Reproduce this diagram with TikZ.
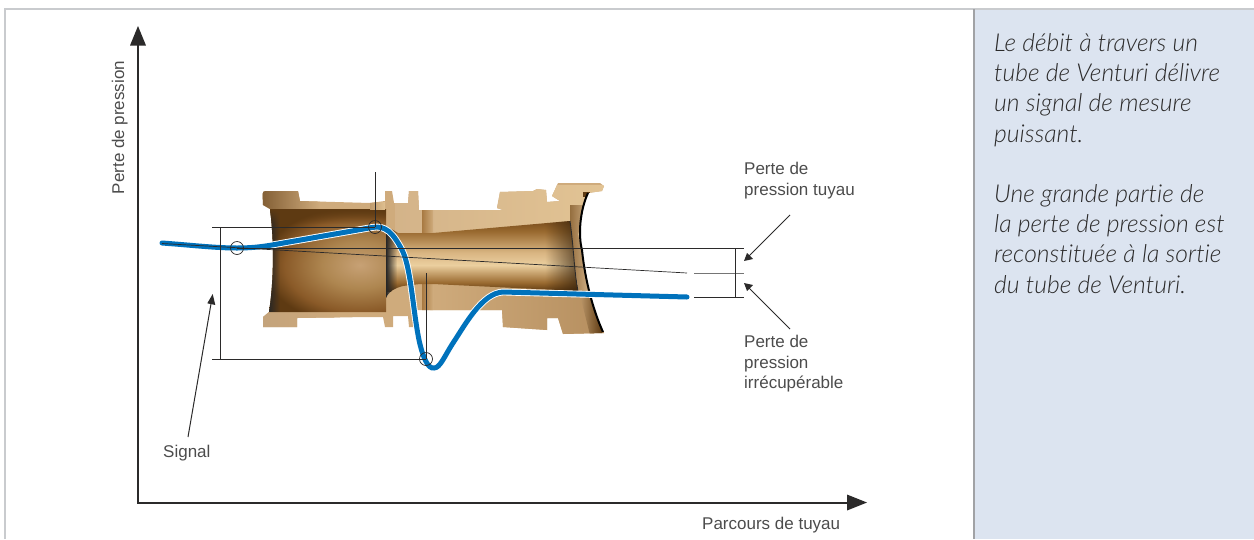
\documentclass[tikz,border=0pt]{standalone}
\usepackage{fontspec}
\usetikzlibrary{fadings,calc}
\setmainfont{Liberation Sans}
\newfontfamily\panelfont[Ligatures=NoCommon]{Lato Light Italic}
\definecolor{ink}{HTML}{2B2A2A}
\definecolor{labelc}{HTML}{4C4C4C}
\definecolor{panelc}{HTML}{DCE4F0}
\definecolor{frameG}{HTML}{C9CBCE}
\definecolor{venturi}{HTML}{0072BC}
\definecolor{tan}{HTML}{CFAB7C}
\definecolor{dk}{HTML}{5E3A12}
\definecolor{md}{HTML}{A87A42}
\definecolor{lt}{HTML}{EBCF9F}
\definecolor{bA}{HTML}{7A4D1C}
\definecolor{bB}{HTML}{9A6A30}
\definecolor{bC}{HTML}{D9B582}
\definecolor{cA}{HTML}{C7A175}
\definecolor{cB}{HTML}{AE8650}
\definecolor{cC}{HTML}{8A5A28}
\pgfdeclareverticalshading{bore}{100bp}{color(0bp)=(dk);color(25bp)=(dk);color(31bp)=(bB);color(43.5bp)=(lt);color(52.5bp)=(bC);color(67.5bp)=(bB);color(75bp)=(bA);color(100bp)=(bA)}
\pgfdeclareradialshading{cav}{\pgfpoint{0bp}{0bp}}{color(0bp)=(cA);color(9bp)=(cB);color(18bp)=(cC);color(23bp)=(dk);color(50bp)=(dk)}
\tikzset{
  thinline/.style={draw=ink,line width=1pt},
  hair/.style={draw=ink,line width=0.7pt},
  pale/.style={draw=ink!65,line width=1pt},
  ring/.style={circle,draw=ink,line width=0.7pt,minimum size=13pt,inner sep=0pt},
  lab/.style={text=labelc,font=\fontsize{17}{20.6}\selectfont,inner sep=0pt,align=left},
  panelt/.style={text=ink,font=\panelfont\fontsize{24.7}{30.4}\selectfont,inner sep=0pt,align=left,anchor=north west},
  tri/.style={fill=ink,draw=none},
}
\begin{document}
\begin{tikzpicture}[x=1pt,y=-1pt]
\useasboundingbox (0,0) rectangle (1254,539);
% panel and frame
\fill[panelc] (974,9) rectangle (1254,539);
\draw[frameG,line width=1.4pt] (5,539) -- (5,9) -- (1254,9);
\draw[frameG!80!black,line width=1.2pt] (974,9) -- (974,539);
% body
\begin{scope}
\clip (262.5,194) .. controls (262.5,191.5) and (264,191) .. (266,191) -- (298,191) -- (300,201) -- (370,203) -- (385,201) -- (385,191) -- (392,191) -- (394,203) -- (408,203) -- (409,191) -- (418,191) -- (419,210) -- (503,210) -- (497,208) -- (500,192) -- (533,191) -- (537,189) -- (546,190) -- (547,202) -- (560,201) -- (552,196) -- (558,183) -- (600,183) -- (604,186) -- (602,191) -- (588,193)
 .. controls (580,210) and (578,235) .. (582,250) .. controls (585,280) and (593,310) .. (604,333)
 -- (563,334) -- (558,318) -- (547,318) -- (547,330) -- (503,327) -- (502,310) -- (417,310) -- (417,327) -- (409,327) -- (408,316) -- (393,316) -- (393,327) -- (385,327) -- (383,317) -- (370,317) -- (297,318) -- (297,327) -- (263,327) -- (263,317) -- (269,312) .. controls (274,280) and (274,240) .. (270,209) -- (263,205) -- cycle;
 \fill[tan] (255,180) rectangle (610,340);
 \shade[left color=dk!75!tan,right color=tan] (255,188) rectangle (320,208);
 \shade[left color=md!70!white,right color=tan] (255,312) rectangle (340,330);
 \shade[left color=tan!90!white,right color=lt!70!tan] (395,185) rectangle (610,234);
 \shade[left color=tan,right color=md!85!white] (430,285) rectangle (610,336);
 % cavity
 \begin{scope}
  \clip (270,209) -- (386,209) -- (386,312) -- (269,312) .. controls (274,280) and (274,240) .. (270,209) -- cycle;
  \shade[shading=cav] (255,200) rectangle (465,330);
  \fill[black!85,path fading=east] (268,209) rectangle (280,312);
  \fill[dk,path fading=south] (269,209) rectangle (386,224);
 \end{scope}
 % lands on the bore
 \shade[left color=tan!85!dk,right color=lt!60!tan] (370,202) rectangle (385,209);
 \shade[left color=md,right color=tan] (422,209) rectangle (433,233);
 \shade[left color=md,right color=tan] (422,284) rectangle (433,310);
 % throat and diffuser
 \begin{scope}
  \clip (386,226) -- (398,233) -- (433,233) -- (570,221) .. controls (574,250) and (574,270) .. (578,291) -- (433,284) -- (420,284) -- (403,286) .. controls (395,288) and (389,291) .. (386,298) -- cycle;
  \shade[shading=bore] (386,221) rectangle (578,291);
  \fill[black!85,path fading=east] (386,226) rectangle (397,298);
  \fill[black!50!dk,opacity=.7,path fading=west] (545,221) rectangle (578,291);
 \end{scope}
 % between diffuser end and outlet
 \begin{scope}
  \clip (570,205) -- (590,190) -- (578,235) -- (582,250) -- (592,300) -- (606,335) -- (590,335) -- (580,295) .. controls (574,270) and (574,250) .. (570,221) -- cycle;
  \shade[left color=md!85!black,right color=tan!90!white] (568,205) rectangle (590,295);
  \shade[left color=tan,right color=dk] (575,295) rectangle (602,335);
 \end{scope}
 \fill[dk] (583,192) rectangle (590,197);
\end{scope}
\draw[ink,line width=0.9pt] (570,221) .. controls (574,250) and (574,270) .. (578,291);
\draw[black,line width=2pt] (588,193) .. controls (580,210) and (578,235) .. (582,250) .. controls (585,280) and (593,310) .. (603,332);
% pressure curve
\coordinate (curveA) at (162,243);
\coordinate (curveZ) at (687,297);
\def\curvepath{(curveA) .. controls (190,245) and (215,248) .. (237,248) .. controls (250,248) and (260,247) .. (272,245) -- (372,227.5) .. controls (385,225) and (393,232) .. (403,252) .. controls (411,270) and (413,310) .. (419,340) .. controls (423,358) and (428,369) .. (434,368) .. controls (440,368) and (444,357) .. (453,343) .. controls (465,325) and (482,293) .. (503,292) -- (curveZ)}
\draw[white,line width=6.8pt,line cap=round] \curvepath;
\draw[venturi,line width=5pt,line cap=round] \curvepath;
% rings
\node[ring] (low) at (237,248) {};
\node[ring] (high) at (375,227) {};
\node[ring] (min) at (426,359) {};
% named ends
\coordinate (highUp) at (375,172);
\coordinate (minUp) at (426,273);
\coordinate (boxTL) at (212,227);
\coordinate (boxBL) at (212,359);
\coordinate (boxT) at (220.5,227);
\coordinate (boxB) at (220.5,359);
\coordinate (pipeR) at (744,248);
\coordinate (slopeA) at (162,243.5);
\coordinate (slopeZ) at (687,273);
\coordinate (midL) at (694,273);
\coordinate (midR) at (744,273);
\coordinate (lowL) at (694,297);
\coordinate (lowR) at (744,297);
\coordinate (barT) at (735,248);
\coordinate (barB) at (735,297);
% thin lines
\draw[thinline] (highUp) -- (high.center);
\draw[thinline] (minUp) -- (min.center);
\draw[thinline] (boxTL) -- (high.center);
\draw[thinline] (boxBL) -- (min.center);
\draw[thinline] (boxT) -- (boxB);
\draw[thinline] (low.center) -- (pipeR);
\draw[hair] (slopeA) -- (slopeZ);
\draw[pale] (midL) -- (midR);
\draw[thinline] (lowL) -- (lowR);
\draw[thinline] (barT) -- (barB);
% axes
\coordinate (origin) at (138,503);
\coordinate (yEnd) at (138,45);
\coordinate (xEnd) at (848,503);
\draw[ink,line width=1.2pt] (yEnd) -- (origin) -- (xEnd);
\fill[tri] (138,26) -- (146,45.5) -- (130,45.5) -- cycle;
\fill[tri] (867,502.5) -- (847,494.5) -- (847,510.5) -- cycle;
% annotation arrows
\coordinate (sigTail) at (188,437);
\coordinate (sigTip) at (212.7,294);
\coordinate (tubeTail) at (790,215);
\coordinate (tubeTip) at (744,261);
\coordinate (perteTail) at (790,329);
\coordinate (perteTip) at (744,283);
\draw[ink,line width=1pt] (sigTail) -- ($(sigTip)!.06!(sigTail)$);
\fill[tri] (sigTip) -- ++(2.6,11) -- ++(-8,-1.7) -- cycle;
\draw[ink,line width=1pt] (tubeTail) -- (749,256);
\fill[tri] (tubeTip) -- ++(9,-2) -- ++(-6,-6) -- cycle;
\draw[ink,line width=1pt] (perteTail) -- (749,288);
\fill[tri] (perteTip) -- ++(9,2) -- ++(-6,6) -- cycle;
% labels
\node[lab,anchor=base west] (lblSignal) at (163,457) {Signal};
\node[lab,anchor=base west] (lblX) at (702,529) {Parcours de tuyau};
\node[lab,rotate=90,anchor=base] (lblY) at (124,127.5) {Perte de pression};
\node[lab,anchor=north west] (lblTube) at (744,162) {Perte de\\pression tuyau};
\node[lab,anchor=north west] (lblPerte) at (744,335) {Perte de\\pression\\irrécupérable};
\node[panelt] (txtA) at (994,33) {Le débit à travers un\\tube de Venturi délivre\\un signal de mesure\\puissant.};
\node[panelt] (txtB) at (994,184) {Une grande partie de\\la perte de pression est\\reconstituée à la sortie\\du tube de Venturi.};
\end{tikzpicture}
\end{document}
